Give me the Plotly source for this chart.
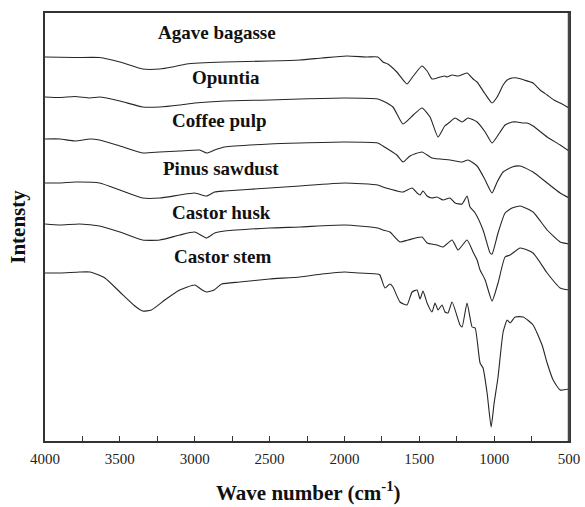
import plotly.graph_objects as go

# FTIR spectra (wavenumber cm-1, intensity a.u., vertically offset)
agave_w = [4000, 3800, 3636, 3500, 3348, 3234, 3150, 3054, 2800, 2500, 2298, 2150, 1984, 1850, 1777, 1743, 1710, 1650, 1582, 1540, 1482, 1448, 1415, 1360, 1330, 1315, 1281, 1240, 1181, 1140, 1114, 1060, 1014, 980, 940, 913, 880, 846, 800, 740, 693, 646, 600, 559, 500]
agave_i = [384, 383.5, 383.5, 379, 372, 372, 374, 377, 379, 380, 381, 383, 385, 384, 384, 379, 377, 369, 357, 365, 375, 370, 362, 364, 365, 364, 366, 365, 368, 362, 359, 347, 338, 344, 356, 361, 363, 363, 361, 358, 351, 346, 341, 338, 333]

opuntia_w = [4000, 3900, 3800, 3700, 3636, 3500, 3348, 3234, 3100, 3000, 2800, 2500, 2298, 2000, 1777, 1743, 1676, 1609, 1540, 1482, 1428, 1375, 1330, 1295, 1261, 1214, 1174, 1114, 1060, 1014, 960, 927, 880, 846, 813, 780, 740, 646, 559, 500]
opuntia_i = [344, 343.5, 344.5, 343, 344, 340, 334, 334, 336, 338, 340, 341, 342, 343, 342, 340, 334, 317, 326, 333, 324, 304, 315, 319, 323, 319, 323, 319, 309, 298, 309, 316, 319, 319, 318, 318, 315, 304, 296, 290]

coffee_w = [4000, 3900, 3800, 3700, 3636, 3500, 3348, 3234, 3100, 2967, 2920, 2867, 2800, 2500, 2298, 2000, 1777, 1743, 1650, 1609, 1562, 1482, 1415, 1295, 1214, 1174, 1114, 1060, 1014, 980, 940, 880, 826, 740, 646, 559, 500]
coffee_i = [302, 302, 300, 302, 301, 295, 288, 289, 290, 291, 288, 291, 294, 297, 298, 299, 298, 295, 286, 279, 285, 289, 283, 281, 279, 281, 275, 261, 248, 259, 269, 274, 275, 269, 258, 248, 243]

pinus_w = [4000, 3900, 3800, 3636, 3500, 3348, 3234, 3100, 3000, 2920, 2867, 2800, 2500, 2298, 2000, 1777, 1743, 1696, 1609, 1548, 1515, 1495, 1475, 1448, 1415, 1382, 1341, 1295, 1261, 1214, 1181, 1161, 1127, 1074, 1027, 1014, 974, 927, 880, 826, 740, 646, 559, 500]
pinus_i = [258, 258, 259, 258, 251, 243, 243, 246, 248, 245, 249, 250, 253, 255, 258, 256, 254, 252, 249, 253, 248, 246, 250, 245, 243, 244, 241, 243, 238, 237, 245, 234, 228, 211, 188, 187, 208, 228, 233, 235, 229, 211, 199, 197]

husk_w = [4000, 3900, 3769, 3636, 3500, 3348, 3234, 3100, 3000, 2920, 2867, 2800, 2500, 2298, 2000, 1777, 1743, 1696, 1629, 1575, 1482, 1448, 1382, 1341, 1281, 1241, 1181, 1141, 1114, 1094, 1060, 1014, 974, 927, 893, 826, 740, 646, 559, 500]
husk_i = [217, 216, 217, 215, 209, 201, 201, 206, 209, 203, 208, 210, 213, 214, 216, 213, 211, 209, 199, 201, 204, 198, 196, 194, 201, 191, 201, 189, 181, 171, 161, 140, 158, 184, 186, 193, 188, 168, 153, 151]

stem_w = [4000, 3900, 3769, 3700, 3600, 3500, 3400, 3348, 3290, 3200, 3100, 3000, 2950, 2920, 2870, 2820, 2700, 2500, 2298, 2150, 2000, 1900, 1777, 1763, 1729, 1696, 1676, 1629, 1582, 1548, 1515, 1495, 1475, 1448, 1415, 1395, 1375, 1348, 1328, 1308, 1281, 1228, 1214, 1181, 1147, 1127, 1094, 1074, 1047, 1020, 1000, 974, 940, 913, 893, 860, 806, 740, 680, 646, 606, 559, 500]
stem_i = [168, 168, 169, 169, 163, 149, 135, 130, 131, 141, 151, 156, 151, 149, 151, 157, 159, 162, 164, 167, 169, 168, 167, 166, 153, 157, 154, 139, 136, 149, 151, 142, 150, 138, 129, 138, 131, 136, 129, 128, 139, 116, 114, 138, 114, 113, 78, 73, 48, 14, 38, 64, 109, 121, 118, 124, 124, 116, 96, 78, 61, 51, 52]

names = ["Agave bagasse", "Opuntia", "Coffee pulp", "Pinus sawdust", "Castor husk", "Castor stem"]
series = [(agave_w, agave_i), (opuntia_w, opuntia_i), (coffee_w, coffee_i),
          (pinus_w, pinus_i), (husk_w, husk_i), (stem_w, stem_i)]

x_ticks = list(range(4000, 499, -250))
x_ticktext = [str(v) if v % 500 == 0 else "" for v in x_ticks]

fig = go.Figure()
for name, (w, i) in zip(names, series):
    fig.add_trace(go.Scatter(x=w, y=i, mode="lines", name=name,
                             line=dict(color="#262626", width=1.1, shape="spline", smoothing=0.5),
                             showlegend=False))

# series labels (paper coords)
label_pos = [(0.328, 0.955), (0.346, 0.850), (0.333, 0.750), (0.335, 0.637), (0.336, 0.535), (0.339, 0.432)]
for name, (px, py) in zip(names, label_pos):
    fig.add_annotation(x=px, y=py, xref="paper", yref="paper", xanchor="center", yanchor="middle",
                       text="<b>%s</b>" % name, showarrow=False,
                       font=dict(family="Liberation Serif", size=19, color="#111"))

# axis titles
fig.add_annotation(x=0.503, y=-0.119, xref="paper", yref="paper", xanchor="center", yanchor="middle",
                   text="<b>Wave number (cm<sup>-1</sup>)</b>", showarrow=False,
                   font=dict(family="Liberation Serif", size=21, color="#111"))
fig.add_annotation(x=-0.052, y=0.50, xref="paper", yref="paper", xanchor="center", yanchor="middle",
                   text="<b>Intensty</b>", showarrow=False, textangle=-90,
                   font=dict(family="Liberation Serif", size=21, color="#111"))

# heavier right frame edge, as in the reference
fig.add_shape(type="line", xref="paper", yref="paper", x0=1, x1=1, y0=0, y1=1,
              line=dict(color="#444", width=2.5))

fig.update_layout(
    width=585, height=507,
    margin=dict(l=45, r=16, t=13, b=66),
    paper_bgcolor="white", plot_bgcolor="white",
    font=dict(family="Liberation Serif", color="#222"),
)
fig.update_xaxes(range=[4000, 500], showgrid=False, zeroline=False, automargin=False,
                 showline=True, linecolor="#333", linewidth=1.5, mirror=True,
                 tickmode="array", tickvals=x_ticks, ticktext=x_ticktext,
                 ticks="inside", ticklen=5, tickwidth=1.2, tickcolor="#333",
                 ticklabelstandoff=3,
                 tickfont=dict(family="Liberation Serif", size=15, color="#222"))
fig.update_yaxes(range=[0, 428], showgrid=False, zeroline=False, automargin=False,
                 showline=True, linecolor="#333", linewidth=1.5, mirror=True,
                 showticklabels=False, ticks="")

fig.write_html("out.html")
